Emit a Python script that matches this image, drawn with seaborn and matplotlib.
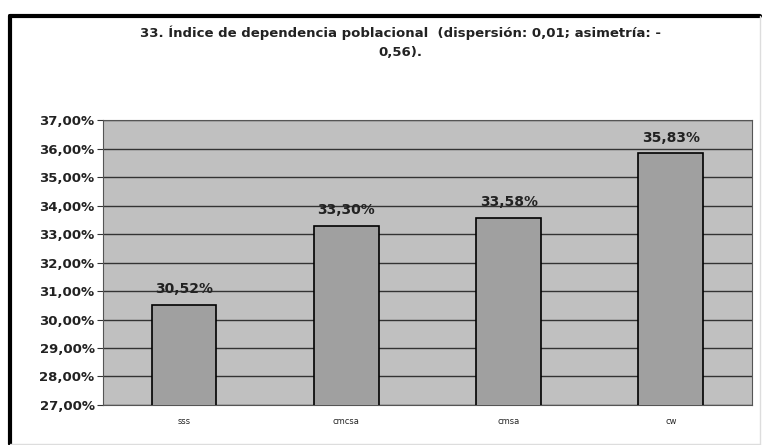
import matplotlib
matplotlib.use("Agg")
import matplotlib.pyplot as plt
import seaborn as sns
import pandas as pd
from matplotlib.lines import Line2D
from matplotlib.ticker import FuncFormatter, MultipleLocator

categories = ["sss", "cmcsa", "cmsa", "cw"]
values = [30.52, 33.30, 33.58, 35.83]
title = "33. Índice de dependencia poblacional  (dispersión: 0,01; asimetría: -\n0,56)."

sns.set_theme(style="white")
plt.rcParams['font.family'] = ['DejaVu Sans']

df = pd.DataFrame({"cat": categories, "val": values})

fig = plt.figure(figsize=(7.62, 4.45), dpi=100)
ax = fig.add_axes([0.135, 0.09, 0.852, 0.64])
ax.set_facecolor("#c0c0c0")

sns.barplot(data=df, x="cat", y="val", ax=ax, color="#a0a0a0", width=0.4,
            edgecolor="black", linewidth=1.2, saturation=1, zorder=3)

ax.set_ylim(27, 37)
ax.yaxis.set_major_locator(MultipleLocator(1))
ax.yaxis.set_major_formatter(FuncFormatter(lambda v, p: f"{v:.2f}".replace(".", ",") + "%"))
ax.grid(axis="y", color="#333333", linewidth=1.0, zorder=0)
ax.set_axisbelow(True)
ax.set_xlabel("")
ax.set_ylabel("")
ax.tick_params(axis="y", labelsize=9.5, length=4, width=0.8, color="#333333", left=True, pad=2)
ax.tick_params(axis="x", labelsize=6, length=0, pad=9)
for lbl in ax.get_yticklabels():
    lbl.set_fontweight("bold")
    lbl.set_color("#222222")
for s in ax.spines.values():
    s.set_color("#555555")
    s.set_linewidth(0.8)

for i, v in enumerate(values):
    ax.text(i, v + 0.3, f"{v:.2f}".replace(".", ",") + "%", ha="center", va="bottom",
            fontsize=10, fontweight="bold", color="#222222", zorder=4)

fig.text(0.525, 0.905, title, ha="center", va="center", fontsize=9.5,
         fontweight="bold", color="#222222", linespacing=1.6)

# outer chart frame
x0, x1 = 10 / 762, 760 / 762
y0, y1 = 0.002, 1 - 16 / 445
fig.add_artist(Line2D([x0, x0], [y0, y1], color="black", linewidth=3, transform=fig.transFigure))
fig.add_artist(Line2D([x0, x1], [y1, y1], color="black", linewidth=3, transform=fig.transFigure))
fig.add_artist(Line2D([x1, x1], [y0, y1], color="#dddddd", linewidth=1, transform=fig.transFigure))
fig.add_artist(Line2D([x0, x1], [y0, y0], color="#dddddd", linewidth=1, transform=fig.transFigure))

fig.savefig("out.png", dpi=100)
